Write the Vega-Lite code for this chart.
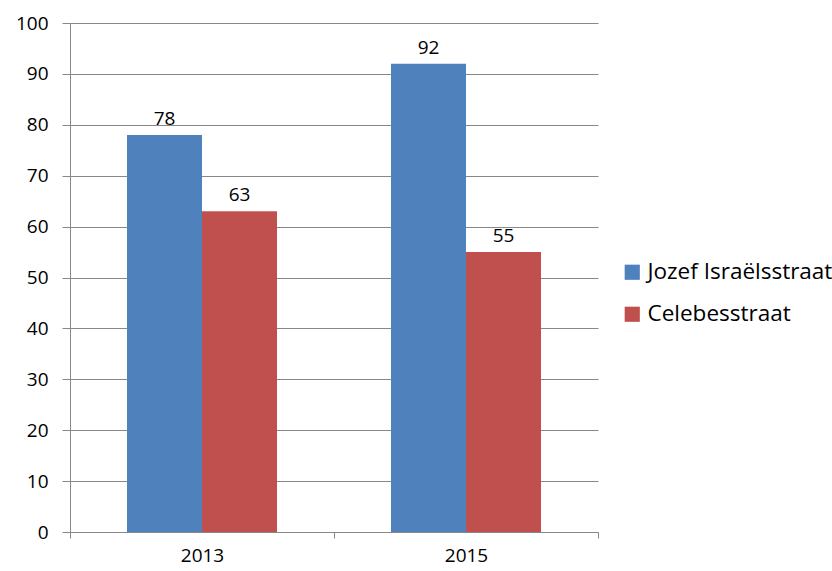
{
  "$schema": "https://vega.github.io/schema/vega-lite/v6.json",
  "width": 528,
  "height": 509,
  "autosize": {"type": "none"},
  "padding": {"left": 70, "top": 23, "right": 234, "bottom": 39},
  "background": "white",
  "config": {
    "view": {"stroke": null},
    "font": "Open Sans"
  },
  "data": {
    "values": [
      {"year": "2013", "street": "Jozef Israëlsstraat", "value": 78},
      {"year": "2013", "street": "Celebesstraat", "value": 63},
      {"year": "2015", "street": "Jozef Israëlsstraat", "value": 92},
      {"year": "2015", "street": "Celebesstraat", "value": 55}
    ]
  },
  "encoding": {
    "x": {
      "field": "year", "type": "nominal",
      "scale": {"paddingInner": 0, "paddingOuter": 0},
      "axis": {
        "title": null, "labelAngle": 0, "labelFontSize": 19, "labelColor": "#000",
        "labelPadding": 8, "tickBand": "extent", "tickSize": 6, "tickColor": "#888",
        "domainColor": "#888", "grid": false
      }
    },
    "xOffset": {
      "field": "street", "type": "nominal",
      "sort": ["Jozef Israëlsstraat", "Celebesstraat"],
      "scale": {"paddingInner": 0, "paddingOuter": 0.76}
    },
    "y": {
      "field": "value", "type": "quantitative",
      "scale": {"domain": [0, 100], "nice": false},
      "axis": {
        "title": null, "values": [0,10,20,30,40,50,60,70,80,90,100],
        "labelFontSize": 19, "labelColor": "#000", "labelPadding": 14,
        "tickSize": 8, "tickColor": "#888", "gridColor": "#888", "domainColor": "#888"
      }
    }
  },
  "layer": [
    {
      "mark": {"type": "bar"},
      "encoding": {
        "color": {
          "field": "street", "type": "nominal",
          "sort": ["Jozef Israëlsstraat", "Celebesstraat"],
          "scale": {"domain": ["Jozef Israëlsstraat", "Celebesstraat"], "range": ["#4F81BD", "#C0504D"]},
          "legend": {
            "title": null, "orient": "none", "legendX": 551, "legendY": 238,
            "symbolType": "square", "symbolSize": 230, "symbolStrokeWidth": 0,
            "labelFontSize": 22.5, "labelColor": "#000", "rowPadding": 19, "labelOffset": 4,
            "labelLimit": 300
          }
        }
      }
    },
    {
      "mark": {"type": "text", "baseline": "bottom", "dy": -6, "fontSize": 19, "color": "#000"},
      "encoding": {"text": {"field": "value", "type": "quantitative"}}
    }
  ]
}
